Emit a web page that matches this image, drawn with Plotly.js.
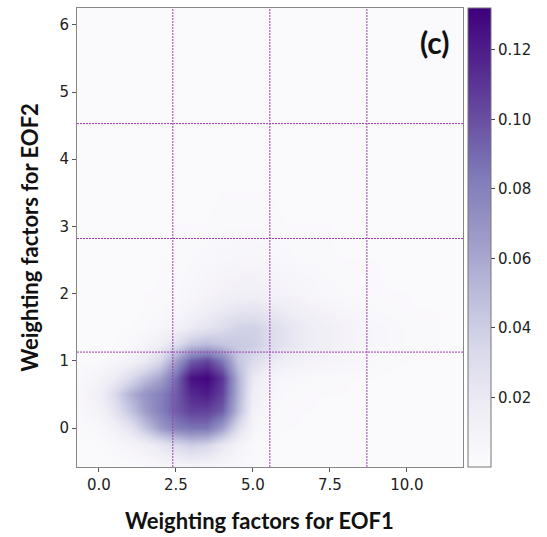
<!DOCTYPE html>
<html>
<head>
<meta charset="utf-8">
<script src="https://cdn.plot.ly/plotly-3.0.1.min.js"></script>
<style>html,body{margin:0;padding:0;background:#fff;}#chart{width:547px;height:537px;}</style>
</head>
<body>
<div id="chart"></div>
<script>
// Density grid (x = EOF1 weight, y = EOF2 weight)
const xCenters = [-0.7, 0, 0.5, 1, 1.5, 2, 2.5, 3, 3.5, 4, 4.5, 5, 5.5, 6, 6.5, 7, 7.5, 8, 9, 10, 11, 11.8];
const yCenters = [-0.6, -0.25, 0, 0.25, 0.5, 0.75, 1.0, 1.25, 1.5, 1.75, 2.0, 2.5, 3.0, 4.0, 5.0, 6.3];
const density = [
  [.002,.002,.002,.003,.003,.004,.006,.007,.007,.005,.004,.003,.002,.002,.002,.002,.002,.002,.002,.002,.002,.002],
  [.002,.003,.005,.008,.014,.022,.032,.040,.035,.022,.010,.004,.003,.002,.002,.002,.002,.002,.002,.002,.002,.002],
  [.003,.005,.012,.025,.045,.065,.080,.085,.085,.065,.030,.008,.004,.003,.003,.002,.002,.002,.002,.002,.002,.002],
  [.004,.010,.025,.045,.065,.080,.095,.105,.105,.095,.050,.012,.005,.003,.003,.003,.002,.002,.002,.002,.002,.002],
  [.005,.014,.032,.055,.070,.080,.095,.115,.120,.105,.055,.015,.007,.004,.003,.003,.003,.003,.002,.002,.002,.002],
  [.004,.009,.018,.032,.048,.062,.090,.125,.130,.110,.055,.020,.010,.006,.005,.004,.004,.003,.003,.002,.002,.002],
  [.002,.004,.007,.012,.020,.035,.065,.095,.105,.085,.045,.032,.022,.015,.012,.010,.008,.007,.004,.003,.003,.002],
  [.002,.002,.003,.005,.008,.015,.030,.045,.050,.045,.042,.040,.033,.026,.020,.016,.013,.010,.006,.004,.003,.002],
  [.002,.002,.002,.003,.004,.006,.011,.019,.025,.031,.037,.038,.032,.026,.020,.016,.013,.010,.006,.004,.003,.002],
  [.002,.002,.002,.002,.003,.004,.006,.010,.015,.020,.024,.025,.022,.018,.014,.011,.009,.007,.004,.003,.003,.002],
  [.002,.002,.002,.002,.003,.003,.004,.006,.009,.012,.014,.014,.012,.010,.008,.006,.005,.004,.003,.003,.002,.002],
  [.002,.002,.002,.002,.002,.003,.003,.004,.005,.006,.007,.007,.006,.005,.004,.004,.003,.003,.003,.002,.002,.002],
  [.002,.002,.002,.002,.002,.002,.003,.003,.003,.004,.004,.004,.004,.003,.003,.003,.003,.002,.002,.002,.002,.002],
  [.002,.002,.002,.002,.002,.002,.002,.002,.002,.002,.002,.002,.002,.002,.002,.002,.002,.002,.002,.002,.002,.002],
  [.002,.002,.002,.002,.002,.002,.002,.002,.002,.002,.002,.002,.002,.002,.002,.002,.002,.002,.002,.002,.002,.002],
  [.002,.002,.002,.002,.002,.002,.002,.002,.002,.002,.002,.002,.002,.002,.002,.002,.002,.002,.002,.002,.002,.002]
];
const xTickVals = [0, 2.5, 5, 7.5, 10];
const xTickText = ['0.0', '2.5', '5.0', '7.5', '10.0'];
const yTickVals = [0, 1, 2, 3, 4, 5, 6];
const cbTickVals = [0.02, 0.04, 0.06, 0.08, 0.10, 0.12];
const cbTickText = ['0.02', '0.04', '0.06', '0.08', '0.10', '0.12'];
const gridX = [2.4, 5.55, 8.7];
const gridY = [1.13, 2.82, 4.53];

const purples = [
  [0.0, '#fcfbfd'], [0.125, '#efedf5'], [0.25, '#dadaeb'], [0.375, '#bcbddc'],
  [0.5, '#9e9ac8'], [0.625, '#807dba'], [0.75, '#6a51a3'], [0.875, '#54278f'], [1.0, '#3f007d']
];

const tickFont = {family: 'DejaVu Sans', size: 15, color: '#222'};
const titleFont = {family: 'Lato', size: 22, color: '#111', weight: 'bold'};

const trace = {
  type: 'heatmap',
  x: xCenters, y: yCenters, z: density,
  zsmooth: 'best',
  colorscale: purples,
  zmin: 0, zmax: 0.132,
  hoverinfo: 'skip',
  colorbar: {
    x: 1.013, xanchor: 'left', xpad: 0,
    y: 0.5, yanchor: 'middle', ypad: 0,
    len: 1, lenmode: 'fraction',
    thickness: 23,
    outlinewidth: 1, outlinecolor: '#777',
    ticks: 'outside', ticklen: 4, tickcolor: '#444',
    tickvals: cbTickVals, ticktext: cbTickText,
    tickfont: tickFont
  }
};

const gridLine = {color: 'rgb(160,60,175)', width: 1, dash: '2px,1px'};
const shapes = [];
gridX.forEach(v => shapes.push({type: 'line', xref: 'x', yref: 'paper', x0: v, x1: v, y0: 0, y1: 1, line: gridLine}));
gridY.forEach(v => shapes.push({type: 'line', xref: 'paper', yref: 'y', x0: 0, x1: 1, y0: v, y1: v, line: gridLine}));

const layout = {
  width: 547, height: 537,
  margin: {l: 77, r: 84, t: 8, b: 70},
  paper_bgcolor: '#fff', plot_bgcolor: '#fff',
  showlegend: false,
  xaxis: {
    range: [-0.71, 11.82],
    tickvals: xTickVals, ticktext: xTickText,
    ticks: 'outside', ticklen: 4, tickcolor: '#555',
    showline: true, mirror: true, linecolor: '#888', linewidth: 1,
    showgrid: false, zeroline: false,
    tickfont: tickFont
  },
  yaxis: {
    range: [-0.58, 6.25],
    tickvals: yTickVals,
    ticks: 'outside', ticklen: 4, tickcolor: '#555',
    showline: true, mirror: true, linecolor: '#888', linewidth: 1,
    showgrid: false, zeroline: false,
    tickfont: tickFont,
    title: {text: 'Weighting factors for EOF2', font: titleFont, standoff: 14}
  },
  shapes: shapes,
  annotations: [
    {
      text: '<b>(c)</b>', xref: 'paper', yref: 'paper', x: 0.927, y: 0.926,
      xanchor: 'center', yanchor: 'middle', showarrow: false,
      font: {family: 'Lato', size: 30, color: '#111'}
    },
    {
      text: 'Weighting factors for EOF1', xref: 'paper', yref: 'paper',
      x: 0.474, y: -0.083, xanchor: 'center', yanchor: 'top', showarrow: false,
      font: titleFont
    }
  ]
};

Plotly.newPlot('chart', [trace], layout, {displayModeBar: false, staticPlot: true});
</script>
</body>
</html>
